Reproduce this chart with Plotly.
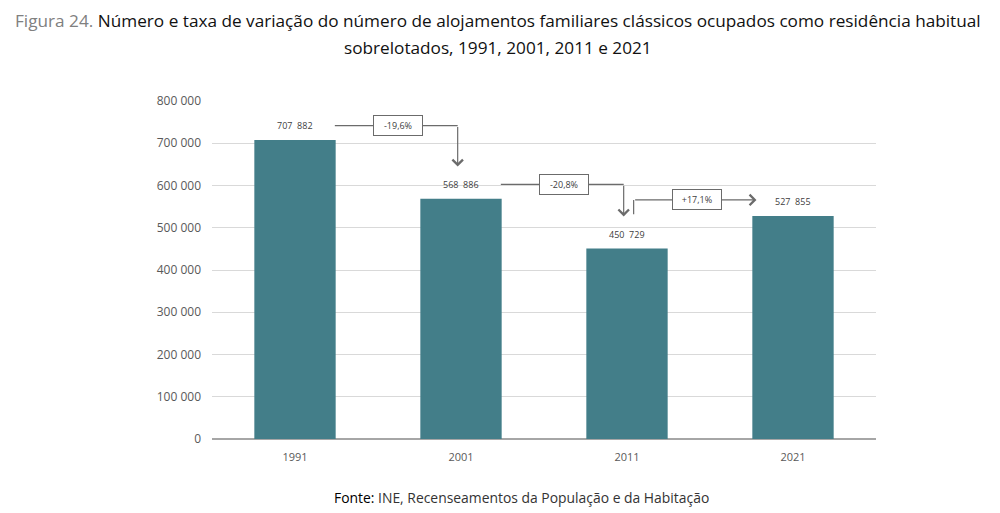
import plotly.graph_objects as go

# Dados: alojamentos sobrelotados
anos = ['1991', '2001', '2011', '2021']
valores = [707882, 568886, 450729, 527855]
rotulos = ['707  882', '568  886', '450  729', '527  855']
variacoes = ['-19,6%', '-20,8%', '+17,1%']
eixo_y = [0, 100000, 200000, 300000, 400000, 500000, 600000, 700000, 800000]
eixo_y_txt = ['0', '100 000', '200 000', '300 000', '400 000', '500 000', '600 000', '700 000', '800 000']

x = list(range(len(anos)))
cor_barra = '#437e89'
cor_linha = '#6b6b6b'
lab_off = 34000

fig = go.Figure()
fig.add_trace(go.Bar(x=x, y=valores, marker=dict(color=cor_barra, line=dict(width=0)),
                     width=0.49, hoverinfo='skip'))

# rotulos de dados
for i, v in enumerate(valores):
    fig.add_annotation(x=i, y=v + lab_off, text=rotulos[i], showarrow=False,
                       font=dict(size=9, color='#404040'))

# setas de variacao
for i in range(len(valores) - 1):
    y_a = valores[i] + lab_off
    y_b = valores[i + 1] + lab_off
    if valores[i + 1] < valores[i]:
        y_lvl = y_a
        tip = y_b + 42000
        xs = [i + 0.24, i + 0.98]
        fig.add_trace(go.Scatter(x=xs, y=[y_lvl, y_lvl], mode='lines',
                                 line=dict(color=cor_linha, width=1.2), hoverinfo='skip'))
        fig.add_annotation(x=i + 0.98, y=tip, ax=i + 0.98, ay=y_lvl, axref='x', ayref='y',
                           xref='x', yref='y', text='', showarrow=True, arrowhead=4,
                           arrowsize=1.7, arrowwidth=1.2, arrowcolor=cor_linha)
        xc = i + 0.62
    else:
        y_lvl = y_b + 4000
        start = valores[i] + lab_off + 47000
        fig.add_trace(go.Scatter(x=[i + 0.04, i + 0.04], y=[start, y_lvl], mode='lines',
                                 line=dict(color=cor_linha, width=1.2), hoverinfo='skip'))
        fig.add_annotation(x=i + 0.78, y=y_lvl, ax=i + 0.04, ay=y_lvl, axref='x', ayref='y',
                           xref='x', yref='y', text='', showarrow=True, arrowhead=4,
                           arrowsize=1.7, arrowwidth=1.2, arrowcolor=cor_linha)
        xc = i + 0.42
    fig.add_annotation(x=xc, y=y_lvl, text=variacoes[i], showarrow=False,
                       font=dict(size=9, color='#404040'), bgcolor='white',
                       bordercolor=cor_linha, borderwidth=1, borderpad=3, width=42)

W, H = 992, 505
ml, mt, mr, mb = 204, 93, 124, 74
ph = H - mt - mb
pw = W - ml - mr


# posicoes em px de ecra (a pagina tem margem de 8 px) -> coordenadas paper
def py(px_screen):
    return (H - mb - (px_screen - 8)) / ph


def px(px_screen):
    return (px_screen - 8 - ml) / pw


# titulo (duas linhas) e fonte
fig.add_annotation(x=px(498), y=py(20), xref='paper', yref='paper', xanchor='center', yanchor='middle',
                   text='<span style="color:#808080">Figura 24.</span> Número e taxa de variação do número de alojamentos familiares clássicos ocupados como residência habitual',
                   showarrow=False, font=dict(family='Open Sans', size=17.2, color='#111111'))
fig.add_annotation(x=px(498), y=py(48), xref='paper', yref='paper', xanchor='center', yanchor='middle',
                   text='sobrelotados, 1991, 2001, 2011 e 2021',
                   showarrow=False, font=dict(family='Open Sans', size=17.2, color='#111111'))
fig.add_annotation(x=px(521), y=py(497), xref='paper', yref='paper', xanchor='center', yanchor='middle',
                   text='<span style="color:#000000">Fonte:</span> INE, Recenseamentos da População e da Habitação',
                   showarrow=False, font=dict(family='Open Sans', size=13.9, color='#333333'))

fig.update_layout(
    width=W, height=H,
    margin=dict(l=ml, r=mr, t=mt, b=mb),
    paper_bgcolor='white', plot_bgcolor='white',
    showlegend=False,
    font=dict(family='Open Sans', size=11, color='#595959'),
    xaxis=dict(range=[-0.5, 3.5], tickvals=x, ticktext=anos, showgrid=False,
               zeroline=False, showline=False, ticks='', tickfont=dict(size=11, color='#595959'),
               ticklabelstandoff=10),
    yaxis=dict(range=[0, 800000], tickvals=eixo_y, ticktext=eixo_y_txt, showgrid=True,
               gridcolor='#d9d9d9', gridwidth=1, zeroline=True, zerolinecolor='#a6a6a6',
               zerolinewidth=1.5, ticks='', tickfont=dict(size=12, color='#595959'),
               ticklabelstandoff=10),
)

fig.write_html('out.html')
